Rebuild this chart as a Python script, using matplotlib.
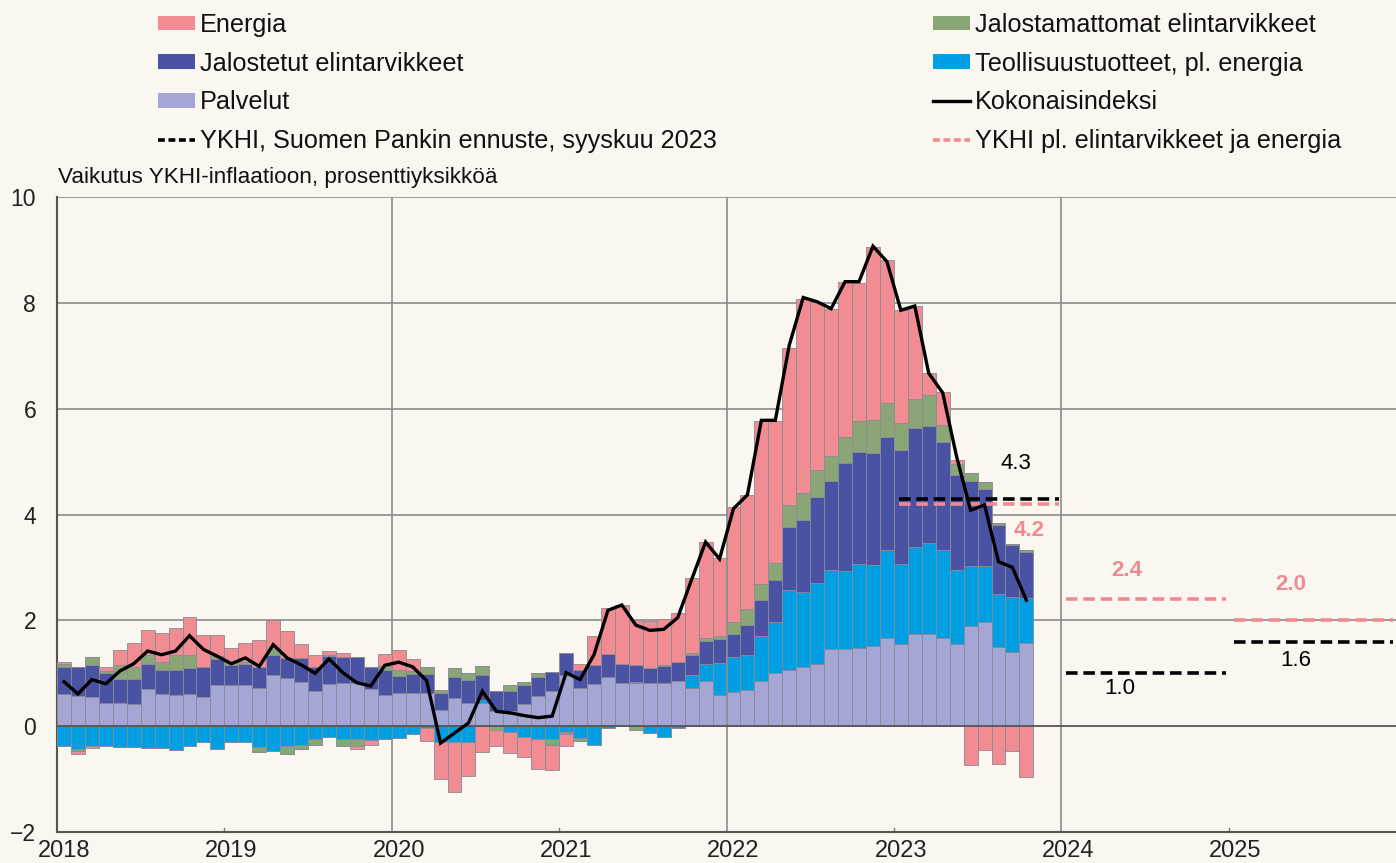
import matplotlib
matplotlib.use("Agg")
import matplotlib.pyplot as plt
import numpy as np
from matplotlib.lines import Line2D
from matplotlib.patches import Patch
from matplotlib.font_manager import FontProperties

# ---------------- data ----------------
start_year = 2018
palvelut = [0.60, 0.57, 0.55, 0.44, 0.44, 0.41, 0.71, 0.61, 0.58, 0.61, 0.56, 0.77,
            0.78, 0.78, 0.73, 0.96, 0.91, 0.84, 0.66, 0.79, 0.81, 0.82, 0.70, 0.58,
            0.63, 0.63, 0.63, 0.30, 0.54, 0.44, 0.44, 0.28, 0.28, 0.41, 0.57, 0.66,
            0.97, 0.72, 0.79, 0.93, 0.81, 0.81, 0.81, 0.81, 0.85, 0.72, 0.85, 0.59,
            0.65, 0.68, 0.86, 1.00, 1.07, 1.11, 1.17, 1.45, 1.45, 1.48, 1.51, 1.67,
            1.56, 1.75, 1.75, 1.66, 1.56, 1.90, 1.97, 1.50, 1.40, 1.57]
teollisuus = [-0.38, -0.44, -0.38, -0.37, -0.40, -0.40, -0.41, -0.41, -0.45, -0.37, -0.30, -0.43,
              -0.30, -0.30, -0.40, -0.47, -0.38, -0.35, -0.24, -0.20, -0.25, -0.25, -0.27, -0.24,
              -0.23, -0.14, -0.03, -0.30, -0.30, -0.30, 0.05, 0.00, -0.11, -0.21, -0.25, -0.25,
              -0.11, -0.23, -0.35, -0.04, 0.00, 0.02, -0.13, -0.21, -0.04, 0.24, 0.32, 0.61,
              0.65, 0.66, 0.84, 0.96, 1.50, 1.42, 1.54, 1.50, 1.49, 1.58, 1.53, 1.66,
              1.51, 1.64, 1.72, 1.67, 1.40, 1.12, 1.05, 1.00, 1.04, 0.86]
jalostetut = [0.52, 0.55, 0.60, 0.57, 0.45, 0.48, 0.46, 0.46, 0.49, 0.49, 0.56, 0.50,
              0.37, 0.40, 0.39, 0.38, 0.38, 0.45, 0.46, 0.53, 0.49, 0.49, 0.41, 0.49,
              0.32, 0.35, 0.35, 0.33, 0.39, 0.43, 0.47, 0.39, 0.39, 0.37, 0.35, 0.37,
              0.42, 0.35, 0.36, 0.44, 0.36, 0.32, 0.29, 0.32, 0.37, 0.39, 0.44, 0.44,
              0.45, 0.57, 0.68, 0.81, 1.19, 1.36, 1.62, 1.69, 2.04, 2.13, 2.12, 2.13,
              2.15, 2.24, 2.20, 2.04, 1.78, 1.62, 1.47, 1.30, 0.98, 0.87]
jalostamattomat = [0.05, -0.02, 0.15, 0.03, 0.26, 0.22, 0.17, 0.15, 0.27, 0.24, 0.00, 0.05,
                   0.05, 0.04, -0.08, 0.11, -0.14, -0.09, -0.12, 0.02, -0.13, -0.13, 0.00, 0.06,
                   0.11, 0.06, 0.14, 0.05, 0.17, 0.13, 0.18, -0.08, 0.10, 0.06, 0.08, -0.11,
                   -0.04, -0.05, 0.00, 0.00, 0.00, -0.08, 0.00, 0.03, 0.00, 0.03, 0.05, 0.06,
                   0.22, 0.30, 0.30, 0.32, 0.42, 0.51, 0.52, 0.47, 0.48, 0.58, 0.62, 0.64,
                   0.50, 0.56, 0.59, 0.33, 0.21, 0.14, 0.12, 0.03, 0.03, 0.03]
energia = [0.05, -0.06, -0.04, 0.07, 0.28, 0.47, 0.47, 0.54, 0.51, 0.73, 0.61, 0.41,
           0.28, 0.36, 0.51, 0.55, 0.51, 0.27, 0.22, 0.08, 0.09, -0.05, -0.08, 0.24,
           0.38, 0.22, -0.25, -0.70, -0.95, -0.65, -0.49, -0.30, -0.40, -0.38, -0.55, -0.47,
           -0.23, 0.11, 0.55, 0.87, 1.12, 0.85, 0.88, 0.87, 0.91, 1.42, 1.82, 1.47,
           2.18, 2.16, 3.09, 2.68, 2.96, 3.68, 3.17, 2.78, 2.94, 2.61, 3.28, 2.70,
           2.14, 1.75, 0.41, 0.61, 0.08, -0.74, -0.45, -0.72, -0.47, -0.96]
kokonaisindeksi = [0.84, 0.61, 0.88, 0.80, 1.04, 1.18, 1.42, 1.35, 1.42, 1.71, 1.45, 1.32,
                   1.18, 1.29, 1.13, 1.54, 1.29, 1.16, 1.00, 1.27, 1.01, 0.82, 0.76, 1.15,
                   1.21, 1.12, 0.86, -0.32, -0.13, 0.06, 0.66, 0.28, 0.25, 0.20, 0.16, 0.19,
                   1.01, 0.88, 1.35, 2.19, 2.29, 1.91, 1.81, 1.83, 2.05, 2.77, 3.48, 3.16,
                   4.11, 4.37, 5.78, 5.78, 7.20, 8.10, 8.02, 7.89, 8.40, 8.40, 9.07, 8.78,
                   7.86, 7.94, 6.67, 6.30, 5.09, 4.08, 4.18, 3.11, 3.00, 2.38]

ennuste_vuodet = [2023, 2024, 2025]
ennuste_ykhi = [4.3, 1.0, 1.6]
ennuste_pohja = [4.2, 2.4, 2.0]

year_labels = ["2018", "2019", "2020", "2021", "2022", "2023", "2024", "2025"]

labels = ["Energia", "Jalostamattomat elintarvikkeet", "Jalostetut elintarvikkeet",
          "Teollisuustuotteet, pl. energia", "Palvelut", "Kokonaisindeksi",
          "YKHI, Suomen Pankin ennuste, syyskuu 2023", "YKHI pl. elintarvikkeet ja energia"]

# ---------------- style ----------------
BG = "#FAF6F0"
C_EN = "#F28C93"
C_GR = "#8BA676"
C_JA = "#4A52A3"
C_TE = "#009FE3"
C_PA = "#A4A6D6"
C_PINKLINE = "#F08A90"

regular = ["Liberation Sans", "DejaVu Sans"]
plt.rcParams["font.family"] = regular

W, H = 1396, 863
fig = plt.figure(figsize=(W / 100, H / 100), dpi=100, facecolor=BG)
ax = fig.add_axes([57 / W, 31 / H, (W - 57) / W, (832 - 197) / H], facecolor=BG)

n = len(palvelut)
x = start_year + (np.arange(n) + 0.5) / 12.0
bw = 1 / 12.0

comps = [(palvelut, C_PA), (teollisuus, C_TE), (jalostetut, C_JA),
         (jalostamattomat, C_GR), (energia, C_EN)]
pos_base = np.zeros(n)
neg_base = np.zeros(n)
for vals, col in comps:
    v = np.array(vals, dtype=float)
    pos = np.where(v > 0, v, 0)
    neg = np.where(v < 0, v, 0)
    ax.bar(x, pos, bw, bottom=pos_base, color=col, edgecolor="#8a8a95",
           linewidth=0.6, zorder=3)
    ax.bar(x, neg, bw, bottom=neg_base, color=col, edgecolor="#8a8a95",
           linewidth=0.6, zorder=3)
    pos_base += pos
    neg_base += neg

ax.plot(x, kokonaisindeksi, color="black", lw=2.4, zorder=5, solid_joinstyle="miter")

# forecasts
for yr, v1, v2 in zip(ennuste_vuodet, ennuste_ykhi, ennuste_pohja):
    ax.plot([yr + 0.03, yr + 0.985], [v2, v2], color=C_PINKLINE, lw=2.6,
            dashes=(3.2, 1.6), zorder=4)
    ax.plot([yr + 0.03, yr + 0.985], [v1, v1], color="black", lw=2.6,
            dashes=(3.2, 1.6), zorder=4)

# annotations
ax.text(2023.73, 4.97, "4.3", ha="center", va="center", fontsize=16, color="black")
ax.text(2023.81, 3.69, "4.2", ha="center", va="center", fontsize=16, color=C_PINKLINE,
        fontweight="bold")
ax.text(2024.39, 2.95, "2.4", ha="center", va="center", fontsize=16, color=C_PINKLINE,
        fontweight="bold")
ax.text(2024.35, 0.72, "1.0", ha="center", va="center", fontsize=16, color="black")
ax.text(2025.37, 2.67, "2.0", ha="center", va="center", fontsize=16, color=C_PINKLINE,
        fontweight="bold")
ax.text(2025.40, 1.25, "1.6", ha="center", va="center", fontsize=16, color="black")

# axes
ax.set_xlim(2018, 2026)
ax.set_ylim(-2, 10)
ax.set_yticks([-2, 0, 2, 4, 6, 8, 10])
ax.set_yticklabels(["\u22122", "0", "2", "4", "6", "8", "10"])
ax.set_xticks([2018 + i + 0.5 / 12 for i in range(8)])
ax.set_xticklabels(year_labels)
ax.tick_params(axis="both", length=0, colors="#222222")
ax.tick_params(axis="y", pad=15, labelsize=16.5)
ax.tick_params(axis="x", pad=6, labelsize=17)

for yv in [2, 4, 6, 8, 10]:
    ax.axhline(yv, color="#8c8c8c", lw=1.2, zorder=1)
ax.axhline(0, color="#555555", lw=1.3, zorder=4)
for xv in [2020, 2022, 2024]:
    ax.axvline(xv, color="#8c8c8c", lw=1.2, zorder=1)
for xv in [2019, 2021, 2023, 2025]:
    ax.plot([xv, xv], [-2, -1.93], color="#777777", lw=1.0, zorder=2, clip_on=False)

for s in ["top", "right"]:
    ax.spines[s].set_visible(False)
for s in ["left", "bottom"]:
    ax.spines[s].set_color("#555555")
    ax.spines[s].set_linewidth(1.5)

fig.text(58 / W, 1 - 178 / H, "Vaikutus YKHI-inflaatioon, prosenttiyksikköä",
         ha="left", va="center", fontsize=16.2, color="#111111")

# legends
h_en = Patch(facecolor=C_EN, edgecolor="none")
h_gr = Patch(facecolor=C_GR, edgecolor="none")
h_ja = Patch(facecolor=C_JA, edgecolor="none")
h_te = Patch(facecolor=C_TE, edgecolor="none")
h_pa = Patch(facecolor=C_PA, edgecolor="none")
h_ko = Line2D([], [], color="black", lw=2.4)
h_yk = Line2D([], [], color="black", lw=2.6, dashes=(1.9, 1.0))
h_po = Line2D([], [], color=C_PINKLINE, lw=2.6, dashes=(1.9, 1.0))

fp = FontProperties(family=regular, size=18.2)
leg_kw = dict(frameon=False, prop=fp, handlelength=1.46,
              handleheight=0.52, handletextpad=0.2, labelspacing=0.58,
              borderpad=0, borderaxespad=0, loc="upper left")

leg1 = fig.legend([h_en, h_ja, h_pa, h_yk],
                  [labels[0], labels[2], labels[4], labels[6]],
                  bbox_to_anchor=(158 / W, 1 - 13 / H), **leg_kw)
leg2 = fig.legend([h_gr, h_te, h_ko, h_po],
                  [labels[1], labels[3], labels[5], labels[7]],
                  bbox_to_anchor=(933 / W, 1 - 13 / H), **leg_kw)
for lg in (leg1, leg2):
    for t in lg.get_texts():
        t.set_color("#111111")

fig.savefig("out.png", dpi=100, facecolor=BG)
